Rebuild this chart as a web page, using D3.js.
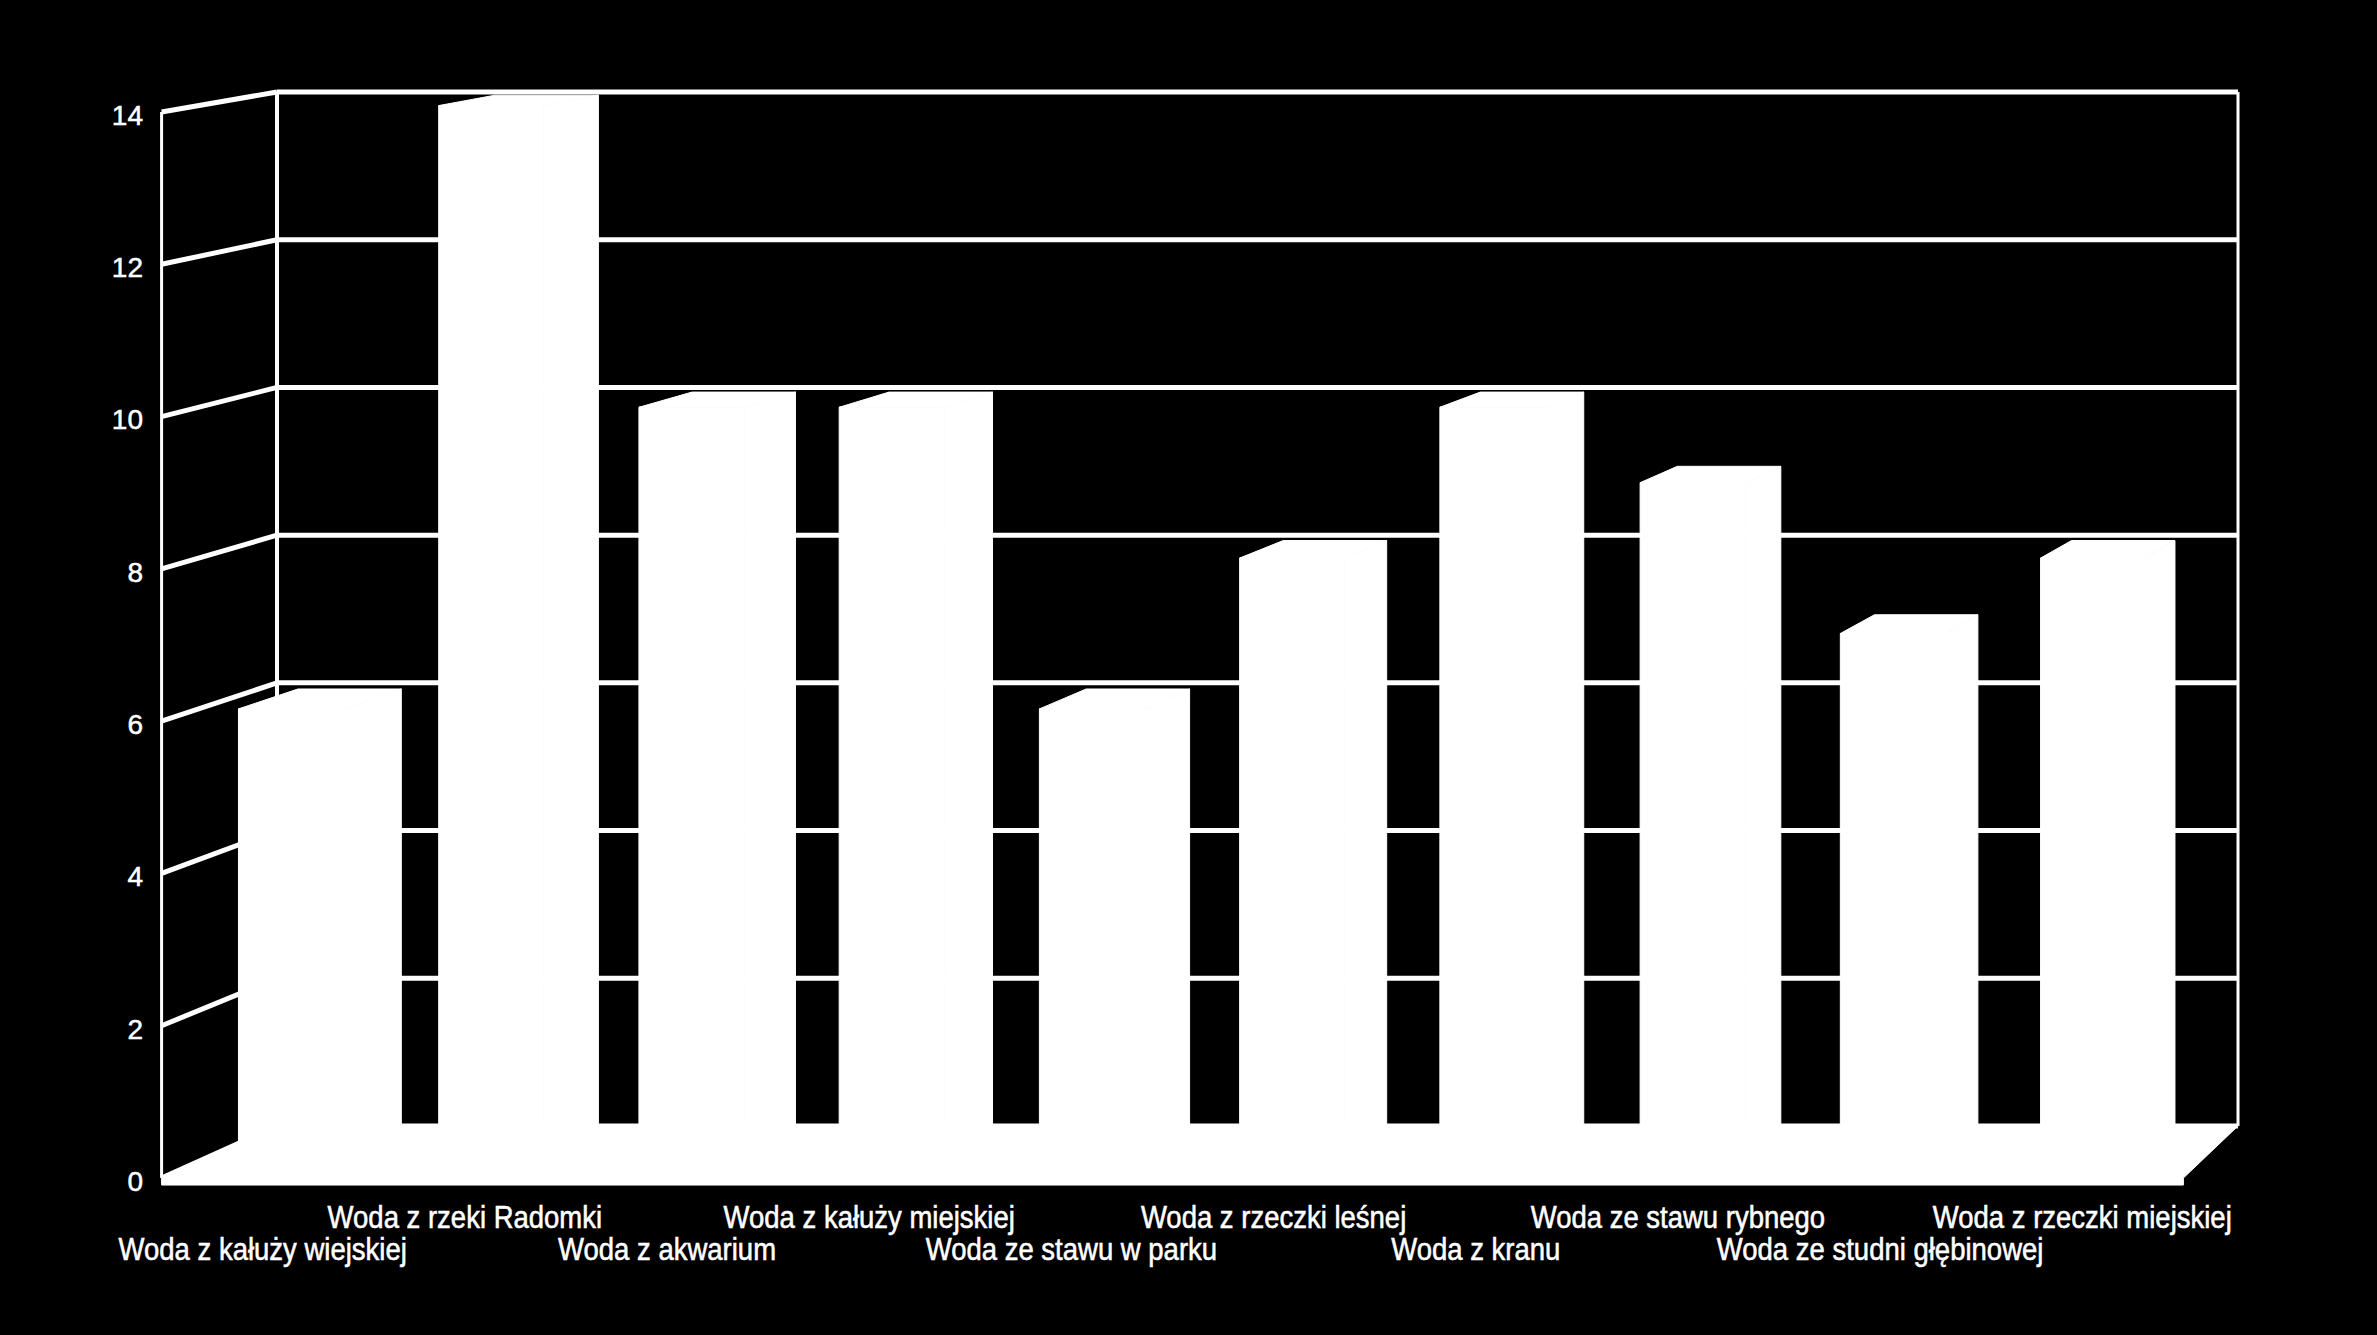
<!DOCTYPE html>
<html lang="pl">
<head>
<meta charset="UTF-8">
<title>Woda</title>
<script src="https://d3js.org/d3.v7.min.js"></script>
<style>
  body { margin: 0; background: #000; overflow: hidden; }
  text { font-family: "Liberation Sans", Arial, sans-serif; fill: #fff; stroke: #fff; stroke-width: 0.5px; }
</style>
</head>
<body>
<script>
// data
const categories = [
  "Woda z kałuży wiejskiej", "Woda z rzeki Radomki", "Woda z akwarium",
  "Woda z kałuży miejskiej", "Woda ze stawu w parku", "Woda z rzeczki leśnej",
  "Woda z kranu", "Woda ze stawu rybnego", "Woda ze studni głębinowej",
  "Woda z rzeczki miejskiej"
];
const values = [6, 14, 10, 10, 6, 8, 10, 9, 7, 8];
const yTicks = [0, 2, 4, 6, 8, 10, 12, 14];

const width = 2377, height = 1335;

// back wall lives in screen space, the front plane is a scaled copy around the vanishing point
const vp = [4000, -553];
const frontScale = 1.031;
const barDepth = [0.16, 0.68];   // back / front of each column (0 = back wall, 1 = front edge)
const slab = 7;                  // floor thickness

const x = d3.scaleBand().domain(categories).range([277, 2238])
  .paddingInner(0.475).paddingOuter(0.2375).align(0.42);
const xCat = d3.scaleBand().domain(categories).range([277, 2238]);
const y = d3.scaleLinear().domain([0, 14]).range([1126, 92]);

function project(px, py, z) {
  const k = 1 + (frontScale - 1) * z;
  return [vp[0] + k * (px - vp[0]), vp[1] + k * (py - vp[1])];
}
const poly = pts => "M" + pts.map(p => p.join(",")).join("L") + "Z";
const line = (a, b) => "M" + a.join(",") + "L" + b.join(",");

const svg = d3.select("body").append("svg")
  .attr("width", width).attr("height", height)
  .style("background", "#000");

const [xl, xr] = x.range();
const y0 = y(0), yTop = y(14);

// side wall (left)
const side = svg.append("g");
yTicks.forEach(t => {
  side.append("path")
    .attr("d", line(project(xl, y(t), 1), project(xl, y(t), 0)))
    .attr("stroke", "#fff").attr("stroke-width", 5);
});
side.append("path")
  .attr("d", line(project(xl, y0, 1), project(xl, yTop, 1)))
  .attr("stroke", "#fff").attr("stroke-width", 3);

// back wall
const back = svg.append("g");
yTicks.forEach(t => {
  back.append("line")
    .attr("x1", xl).attr("x2", xr).attr("y1", y(t)).attr("y2", y(t))
    .attr("stroke", "#fff").attr("stroke-width", 5);
});
back.append("line").attr("x1", xl).attr("x2", xl).attr("y1", yTop).attr("y2", y0)
  .attr("stroke", "#fff").attr("stroke-width", 4);
back.append("line").attr("x1", xr).attr("x2", xr).attr("y1", yTop).attr("y2", y0)
  .attr("stroke", "#fff").attr("stroke-width", 3);
back.append("line").attr("x1", xl).attr("x2", xr).attr("y1", yTop).attr("y2", yTop)
  .attr("stroke", "#fff").attr("stroke-width", 3);

// floor
const fl = project(xl, y0, 1), fr = project(xr, y0, 1);
svg.append("path")
  .attr("d", poly([[xl, y0], [xr, y0], fr, [fr[0], fr[1] + slab], [fl[0], fl[1] + slab], fl]))
  .attr("fill", "#fff").attr("stroke", "#fff").attr("stroke-width", 1);

// columns
const bars = svg.append("g");
categories.forEach((c, i) => {
  const a = x(c), b = a + x.bandwidth(), top = y(values[i]);
  const [zb, zf] = barDepth;
  const faces = [
    [project(a, y0, zf), project(b, y0, zf), project(b, top, zf), project(a, top, zf)],
    [project(b, y0, zf), project(b, y0, zb), project(b, top, zb), project(b, top, zf)],
    [project(a, top, zf), project(b, top, zf), project(b, top, zb), project(a, top, zb)]
  ];
  faces.forEach(f => {
    bars.append("path").attr("d", poly(f))
      .attr("fill", "#fff").attr("stroke", "#fff").attr("stroke-width", 1);
  });
});

// value axis labels on the front edge
yTicks.forEach(t => {
  const p = project(xl, y(t), 1);
  svg.append("text")
    .attr("x", 143).attr("y", p[1] + 3).attr("dy", "0.35em")
    .attr("text-anchor", "end").attr("font-size", 28)
    .text(t);
});

// category labels, alternating rows
categories.forEach((c, i) => {
  const cx = project(xCat(c) + xCat.bandwidth() / 2, y0, 1)[0];
  const cy = i % 2 === 0 ? 1260 : 1228;
  svg.append("text")
    .attr("transform", `translate(${cx},${cy}) scale(1,1.12)`)
    .attr("text-anchor", "middle").attr("font-size", 27.5)
    .text(c);
});
</script>
</body>
</html>
